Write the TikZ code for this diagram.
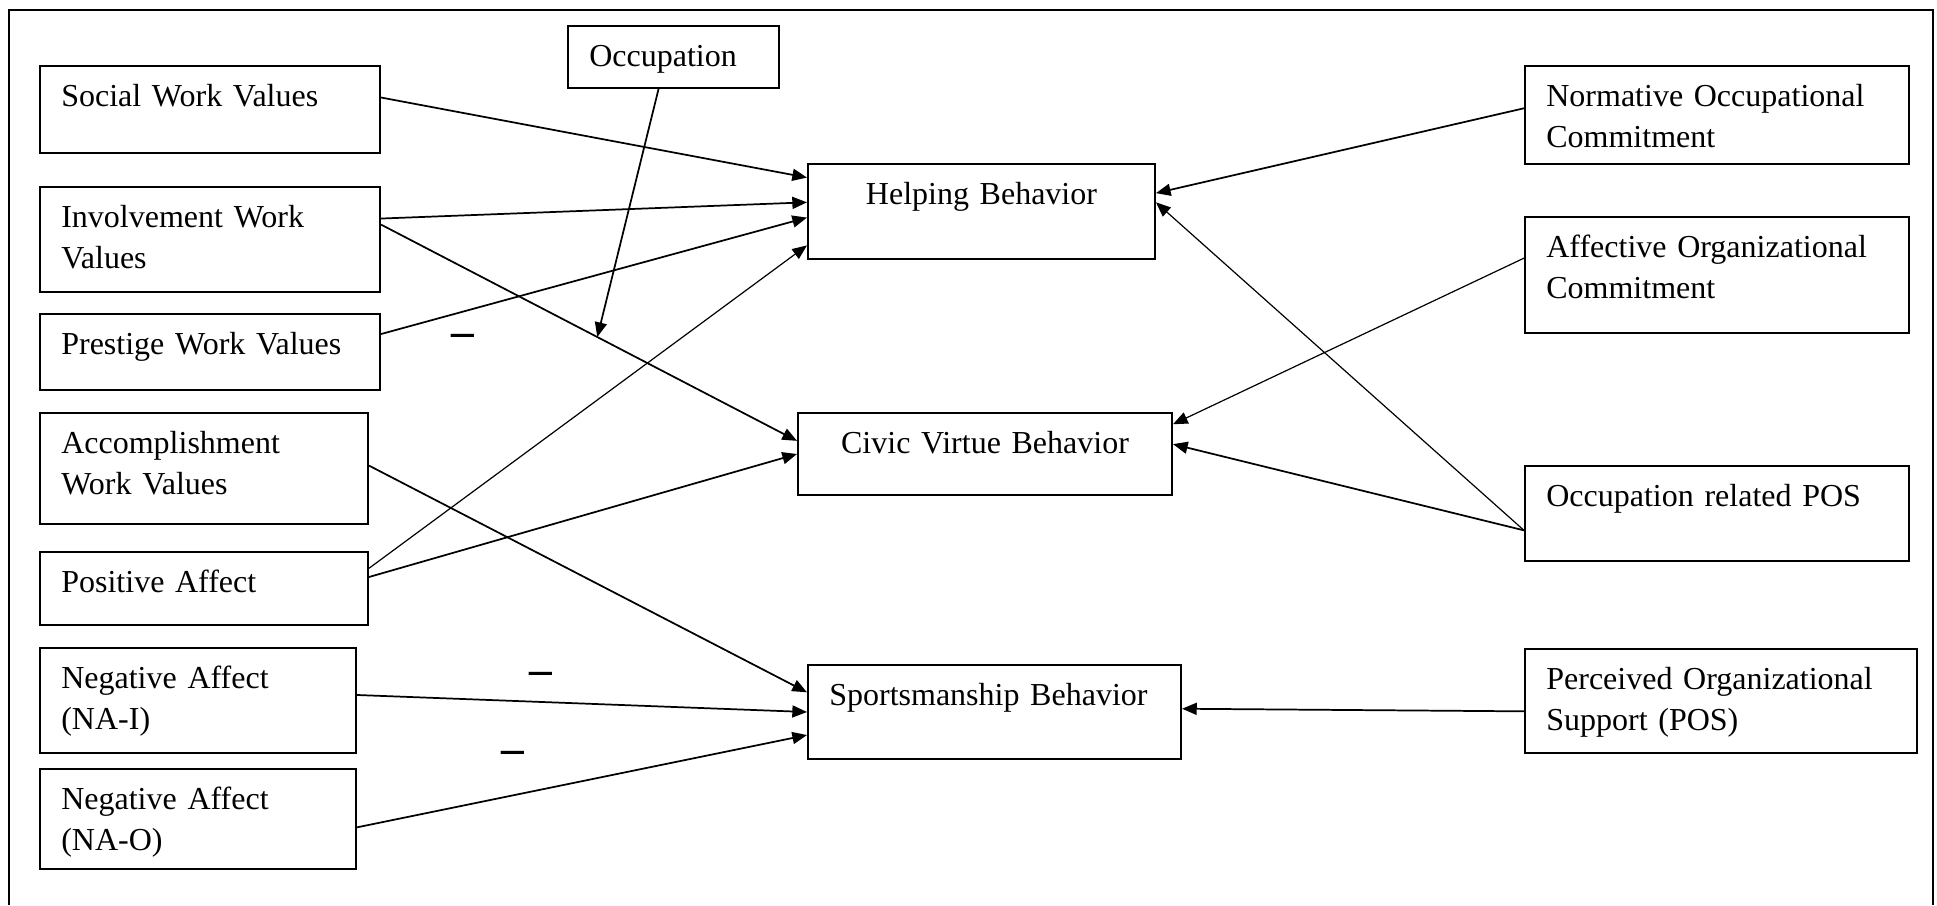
\documentclass[tikz,border=0pt]{standalone}
\usepackage{fontspec}
\setmainfont{Liberation Serif}
\usetikzlibrary{arrows.meta, calc}

\begin{document}
\begin{tikzpicture}[
  x=0.375pt, y=-0.375pt,
  every node/.style={font=\fontsize{12}{15.5}\selectfont},
  box/.style={draw, line width=0.75pt, anchor=north west, align=left, inner xsep=8pt, inner ysep=4pt, text height=11pt},
  mid/.style={box, align=center},
  arrow/.style={-{Triangle[length=5.5pt, width=4.5pt]}, line width=0.65pt},
  thinarrow/.style={arrow, line width=0.45pt},
  sign/.style={font=\fontsize{17}{17}\selectfont\bfseries, inner sep=0pt}
]
  \useasboundingbox (0,0) rectangle (1937,905);
  \draw[line width=0.9pt] (9,905) |- (1933,10) -- (1933,905);

  % predictors
  \node[box, text width=63.1pt, text depth=4.25pt] (occ) at (567,25) {Occupation};
  \node[box, text width=111.5pt, text depth=13.6pt] (social) at (39,65) {Social Work Values};
  \node[box, text width=111.5pt, text depth=20.4pt] (inv) at (39,186) {Involvement Work\\Values};
  \node[box, text width=111.5pt, text depth=9.5pt] (prest) at (39,313) {Prestige Work Values};
  \node[box, text width=107pt, text depth=22.6pt] (accomp) at (39,412) {Accomplishment\\Work Values};
  \node[box, text width=107pt, text depth=8.4pt] (pos) at (39,551) {Positive Affect};
  \node[box, text width=102.5pt, text depth=20.4pt] (nai) at (39,647) {Negative Affect\\(NA-I)};
  \node[box, text width=102.5pt, text depth=18.5pt] (nao) at (39,768) {Negative Affect\\(NA-O)};

  % outcomes
  \node[mid, text width=114.1pt, text depth=16.6pt] (help) at (807,163) {Helping Behavior};
  \node[mid, text width=124.25pt, text depth=11.75pt] (civic) at (797,412) {Civic Virtue Behavior};
  \node[box, text width=123.9pt, text depth=16.25pt] (sport) at (807,664) {Sportsmanship Behavior};

  % right side
  \node[box, text width=128pt, text depth=17.75pt] (norm) at (1524,65) {Normative Occupational\\Commitment};
  \node[box, text width=128pt, text depth=24.5pt] (affect) at (1524,216) {Affective Organizational\\Commitment};
  \node[box, text width=128pt, text depth=16.6pt] (occpos) at (1524,465) {Occupation related POS};
  \node[box, text width=131pt, text depth=20pt] (perc) at (1524,648) {Perceived Organizational\\Support (POS)};

  \node[sign] (minusA) at (463,340) {--};
  \node[sign] (minusB) at (541,678) {--};
  \node[sign] (minusC) at (513,757) {--};

  \draw[arrow] (social.4) -- (help.169);
  \draw[arrow] (inv.7) -- (help.177);
  \draw[arrow] (inv.5) -- (civic.176);
  \draw[arrow] (prest.6) -- (help.182);
  \draw[thinarrow] (pos.7) -- (help.191);
  \draw[arrow] (pos.4) -- (civic.180);
  \draw[arrow] (accomp.1) -- (sport.174);
  \draw[arrow] (nai.2) -- (sport.180);
  \draw[arrow] (nao.-3) -- (sport.187);

  \coordinate (moderate) at ($(inv.5)!0.52!(civic.176)$);
  \draw[arrow] (occ.245) -- (moderate);

  \draw[arrow] (norm.178) -- (help.6);
  \draw[thinarrow] (occpos.185) -- (help.3);
  \draw[arrow] (occpos.185) -- (civic.3);
  \draw[thinarrow] (affect.175) -- (civic.9);
  \draw[arrow] (perc.183) -- (sport.1);

\end{tikzpicture}
\end{document}
